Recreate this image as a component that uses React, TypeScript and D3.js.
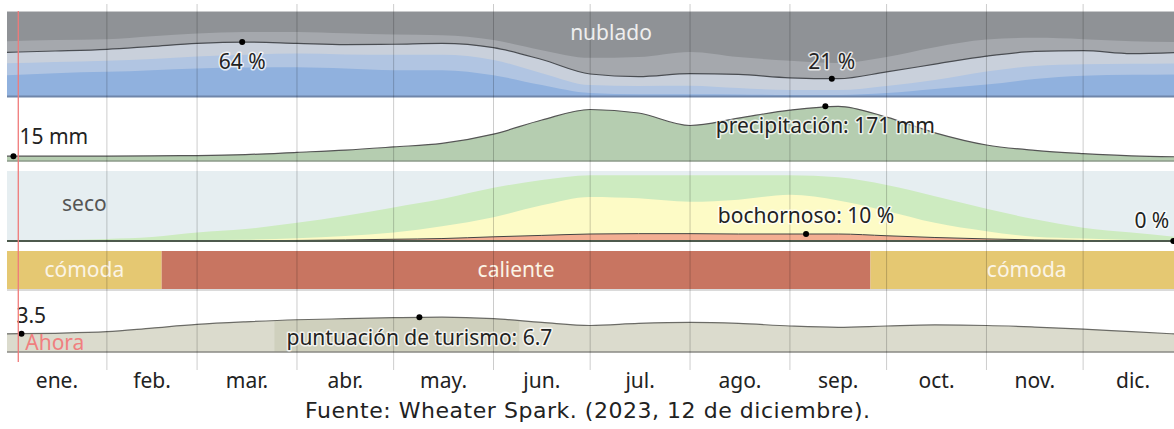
import { useEffect, useRef } from "react";
import * as d3 from "d3";

// sample days (day of year) for every series below
const days = [0, 15, 31, 45, 59, 74, 90, 105, 120, 135, 151, 166, 181, 196, 212, 227, 243, 258, 273, 288, 304, 319, 334, 349, 365];

// cloud cover, cumulative % of time (clear, +mostly clear, +partly cloudy, +mostly cloudy)
const clearPct = [25, 27.5, 29, 31, 33, 34, 34.5, 33, 31, 31, 25, 13.5, 4, 2.6, 2.6, 2.4, 1.8, 1.8, 4, 8.8, 14, 20.5, 24.5, 25.5, 26];
const mostlyClearPct = [39, 40.5, 42, 44, 47, 49, 50.5, 49.5, 49, 49, 43, 27.5, 13.5, 12.5, 12.7, 10, 7.6, 7.6, 12.4, 19.5, 29.5, 36, 38, 38.5, 39];
const partlyCloudyPct = [52, 53.5, 55.5, 59, 62.5, 64, 62.5, 61, 61.5, 62.5, 57.5, 43.5, 26.5, 23.5, 27, 26, 22, 21, 29, 38, 47.5, 53, 54, 50.5, 52];
const mostlyCloudyPct = [65, 66.5, 67.5, 71, 74, 76, 76, 74.5, 73, 72, 66.5, 54.5, 45.5, 46.5, 52.5, 46.5, 42, 39.5, 46.5, 58, 67, 69, 67.5, 65, 64];

// monthly rainfall (mm, 31-day sliding)
const precipMm = [15, 15.5, 15.5, 16, 17, 20, 27, 34, 44, 55, 84, 128, 161, 150, 111, 134, 159, 171, 137, 88, 50, 33, 23, 16, 13];

// humidity comfort, cumulative % of time (muggy or worse, +humid, +comfortable)
const muggyPct = [0, 0, 0, 0, 0.2, 0.4, 0.8, 1.5, 2.5, 3.5, 6, 8, 10, 10.5, 10.5, 10, 10, 10, 7.5, 5, 3, 1.5, 0.7, 0.3, 0];
const humidPct = [0.3, 0.3, 0.5, 0.7, 1, 1.7, 4, 7, 12, 21, 34, 51, 63, 61, 56, 59, 66, 58, 43, 26, 14, 6, 3.5, 1.4, 0.7];
const comfortablePct = [1.4, 1.4, 2.9, 5.7, 12, 17, 26, 36, 48, 60, 76, 87, 94, 94, 94, 94, 94, 91, 80, 64, 46, 31, 19, 12, 5];

// tourism score (0-10)
const tourismScore = [3.5, 3.6, 3.9, 4.6, 5.3, 5.8, 6.2, 6.4, 6.6, 6.7, 6.4, 5.7, 5.1, 5.5, 5.7, 5.5, 5.0, 4.75, 5.0, 5.2, 5.1, 4.8, 4.4, 3.9, 3.4];
const bestTourismDays = [83, 159];

const months = ["ene.", "feb.", "mar.", "abr.", "may.", "jun.", "jul.", "ago.", "sep.", "oct.", "nov.", "dic."];
const monthStarts = [0, 31, 59, 90, 120, 151, 181, 212, 243, 273, 304, 334, 365];

const comfortLabels = ["cómoda", "caliente", "cómoda"];
const comfortStarts = [0, 48, 268];
const comfortEnds = [48, 268, 365];

const todayDay = 3.5;

const cloudNotes = [
  { day: 73, value: 64, text: "64 %" },
  { day: 256, value: 21, text: "21 %" },
];
const precipNotes = [
  { day: 2, value: 15, text: "15 mm" },
  { day: 254, value: 171, text: "precipitación: 171 mm" },
];
const muggyNotes = [
  { day: 248, value: 10, text: "bochornoso: 10 %" },
  { day: 362, value: 0, text: "0 %" },
];
const tourismNotes = [
  { day: 4.5, value: 3.5, text: "3.5" },
  { day: 128, value: 6.7, text: "puntuación de turismo: 6.7" },
];

const W = 1174;
const H = 429;
const FONT = "'Noto Sans', 'Open Sans', sans-serif";
const FS = 21;

function App() {
  const ref = useRef<SVGSVGElement>(null);

  useEffect(() => {
    const svg = d3.select(ref.current);
    svg.selectAll("*").remove();

    const x = d3.scaleLinear().domain([0, 365]).range([7, 1183]);
    const yCloud = d3.scaleLinear().domain([0, 100]).range([96.5, 11.5]);
    const yPrecip = d3.scaleLinear().domain([0, 200]).range([161, 97]);
    const yHumid = d3.scaleLinear().domain([0, 100]).range([241, 171]);
    const yTour = d3.scaleLinear().domain([0, 10]).range([352, 300]);
    const curve = d3.curveMonotoneX;

    const area = (vals: number[], y: d3.ScaleLinear<number, number>) =>
      d3
        .area<number>()
        .x((d, i) => x(days[i]))
        .y0(y(0))
        .y1((d) => y(d))
        .curve(curve)(vals);
    const line = (vals: number[], y: d3.ScaleLinear<number, number>) =>
      d3
        .line<number>()
        .x((d, i) => x(days[i]))
        .y((d) => y(d))
        .curve(curve)(vals);

    const g = svg.append("g");

    // --- cloud cover
    g.append("rect")
      .attr("x", x(0)).attr("y", yCloud(100))
      .attr("width", x(365) - x(0)).attr("height", yCloud(0) - yCloud(100))
      .attr("fill", "#8f9296");
    const cloudLayers: [number[], string][] = [
      [mostlyCloudyPct, "#a5a8ad"],
      [partlyCloudyPct, "#c9d0db"],
      [mostlyClearPct, "#b1c5e2"],
      [clearPct, "#90b1de"],
    ];
    cloudLayers.forEach(([vals, color]) => {
      g.append("path").attr("d", area(vals, yCloud)).attr("fill", color);
    });
    g.append("path").attr("d", line(partlyCloudyPct, yCloud))
      .attr("fill", "none").attr("stroke", "#4a4d52").attr("stroke-width", 1.2);
    g.append("line")
      .attr("x1", x(0)).attr("x2", x(365))
      .attr("y1", yCloud(100)).attr("y2", yCloud(100))
      .attr("stroke", "#c9cacc").attr("stroke-width", 1);
    g.append("line")
      .attr("x1", x(0)).attr("x2", x(365))
      .attr("y1", yCloud(0)).attr("y2", yCloud(0))
      .attr("stroke", "#6f86aa").attr("stroke-width", 2);

    // --- precipitation
    g.append("path").attr("d", area(precipMm, yPrecip)).attr("fill", "#b5cdb0");
    g.append("path").attr("d", line(precipMm, yPrecip))
      .attr("fill", "none").attr("stroke", "#555").attr("stroke-width", 1.2);
    g.append("line")
      .attr("x1", x(0)).attr("x2", x(365))
      .attr("y1", yPrecip(0)).attr("y2", yPrecip(0))
      .attr("stroke", "#8d9a8a").attr("stroke-width", 1.5);

    // --- humidity
    g.append("rect")
      .attr("x", x(0)).attr("y", yHumid(100))
      .attr("width", x(365) - x(0)).attr("height", yHumid(0) - yHumid(100))
      .attr("fill", "#e6eef1");
    g.append("path").attr("d", area(comfortablePct, yHumid)).attr("fill", "#cdebc0");
    g.append("path").attr("d", area(humidPct, yHumid)).attr("fill", "#fdfbc6");
    g.append("path").attr("d", area(muggyPct, yHumid)).attr("fill", "#f3ae92");
    g.append("path").attr("d", line(muggyPct, yHumid))
      .attr("fill", "none").attr("stroke", "#444").attr("stroke-width", 1);
    g.append("line")
      .attr("x1", x(0)).attr("x2", x(365))
      .attr("y1", yHumid(0)).attr("y2", yHumid(0))
      .attr("stroke", "#4d5a4d").attr("stroke-width", 2);

    // --- comfort bands
    const bandColor: Record<string, string> = { "cómoda": "#e5c872", caliente: "#c87561" };
    comfortLabels.forEach((lab, i) => {
      g.append("rect")
        .attr("x", x(comfortStarts[i])).attr("y", 251)
        .attr("width", x(comfortEnds[i]) - x(comfortStarts[i])).attr("height", 38)
        .attr("fill", bandColor[lab]);
      g.append("text")
        .attr("x", (x(comfortStarts[i]) + x(comfortEnds[i])) / 2).attr("y", 277)
        .attr("text-anchor", "middle").attr("font-family", FONT).attr("font-size", FS)
        .attr("fill", "#fbf4e6").text(lab);
    });
    g.append("line")
      .attr("x1", x(0)).attr("x2", x(365)).attr("y1", 290).attr("y2", 290)
      .attr("stroke", "#b5b5b5").attr("stroke-width", 1);

    // --- tourism score
    g.append("path").attr("d", area(tourismScore, yTour)).attr("fill", "#dbdbcd");
    g.append("clipPath").attr("id", "best")
      .append("rect")
      .attr("x", x(bestTourismDays[0])).attr("y", 0)
      .attr("width", x(bestTourismDays[1]) - x(bestTourismDays[0])).attr("height", H);
    g.append("path").attr("d", area(tourismScore, yTour))
      .attr("clip-path", "url(#best)").attr("fill", "#cfd0bd");
    g.append("path").attr("d", line(tourismScore, yTour))
      .attr("fill", "none").attr("stroke", "#6b6b66").attr("stroke-width", 1.2);
    g.append("line")
      .attr("x1", x(0)).attr("x2", x(365))
      .attr("y1", yTour(0)).attr("y2", yTour(0))
      .attr("stroke", "#8a8a85").attr("stroke-width", 1.5);

    // --- month grid
    g.selectAll(".grid")
      .data(monthStarts.slice(1, 12))
      .join("line")
      .attr("x1", (d) => x(d)).attr("x2", (d) => x(d))
      .attr("y1", 4).attr("y2", 370)
      .attr("stroke", "rgba(0,0,0,0.2)").attr("stroke-width", 1);

    g.selectAll(".month")
      .data(months)
      .join("text")
      .attr("x", (d, i) => (x(monthStarts[i]) + x(monthStarts[i + 1])) / 2)
      .attr("y", 388)
      .attr("text-anchor", "middle").attr("font-family", FONT).attr("font-size", FS)
      .attr("fill", "#222").text((d) => d);

    // --- annotations
    const halo = (sel: d3.Selection<SVGTextElement, unknown, null, undefined>) =>
      sel.attr("font-family", FONT).attr("font-size", FS).attr("fill", "#222")
        .attr("stroke", "rgba(255,255,255,0.75)").attr("stroke-width", 3)
        .attr("stroke-linejoin", "round").attr("paint-order", "stroke");
    const dot = (cx: number, cy: number) =>
      g.append("circle").attr("cx", cx).attr("cy", cy).attr("r", 3).attr("fill", "#000");

    g.append("text").attr("x", 611).attr("y", 40).attr("text-anchor", "middle")
      .attr("font-family", FONT).attr("font-size", FS).attr("fill", "#eeeeee").text("nublado");
    cloudNotes.forEach((n, i) => {
      dot(x(n.day), yCloud(n.value));
      halo(g.append("text")
        .attr("x", x(n.day)).attr("y", i === 0 ? yCloud(n.value) + 27 : yCloud(n.value) - 10)
        .attr("text-anchor", "middle").text(n.text));
    });

    precipNotes.forEach((n, i) => {
      dot(x(n.day), yPrecip(n.value));
      halo(g.append("text")
        .attr("x", i === 0 ? x(n.day) + 6 : x(n.day))
        .attr("y", i === 0 ? yPrecip(n.value) - 12 : yPrecip(n.value) + 27)
        .attr("text-anchor", i === 0 ? "start" : "middle").text(n.text));
    });

    g.append("text").attr("x", 62).attr("y", 211)
      .attr("font-family", FONT).attr("font-size", FS).attr("fill", "#555").text("seco");
    muggyNotes.forEach((n, i) => {
      dot(x(n.day), yHumid(n.value));
      halo(g.append("text")
        .attr("x", i === 0 ? x(n.day) : x(n.day) - 4)
        .attr("y", i === 0 ? yHumid(n.value) - 11 : yHumid(n.value) - 13)
        .attr("text-anchor", i === 0 ? "middle" : "end").text(n.text));
    });

    tourismNotes.forEach((n, i) => {
      dot(x(n.day), yTour(n.value));
      halo(g.append("text")
        .attr("x", i === 0 ? x(n.day) - 5 : x(n.day))
        .attr("y", i === 0 ? yTour(n.value) - 11 : yTour(n.value) + 28)
        .attr("text-anchor", i === 0 ? "start" : "middle").text(n.text));
    });

    // --- "now" marker
    g.append("line")
      .attr("x1", x(todayDay)).attr("x2", x(todayDay)).attr("y1", 11).attr("y2", 362)
      .attr("stroke", "#f07a7a").attr("stroke-width", 1.3);
    g.append("text").attr("x", x(todayDay) + 7).attr("y", 350)
      .attr("font-family", FONT).attr("font-size", FS).attr("fill", "#f07f7f").text("Ahora");

    g.append("text").attr("x", 305).attr("y", 418)
      .attr("font-family", "'DejaVu Sans', sans-serif").attr("font-size", 22)
      .attr("textLength", 565).attr("lengthAdjust", "spacing")
      .attr("fill", "#222").text("Fuente: Wheater Spark. (2023, 12 de diciembre).");
  }, []);

  return (
    <svg
      ref={ref}
      width={W}
      height={H}
      style={{ position: "absolute", left: 0, top: 0, background: "#fff" }}
    />
  );
}

export default App;
